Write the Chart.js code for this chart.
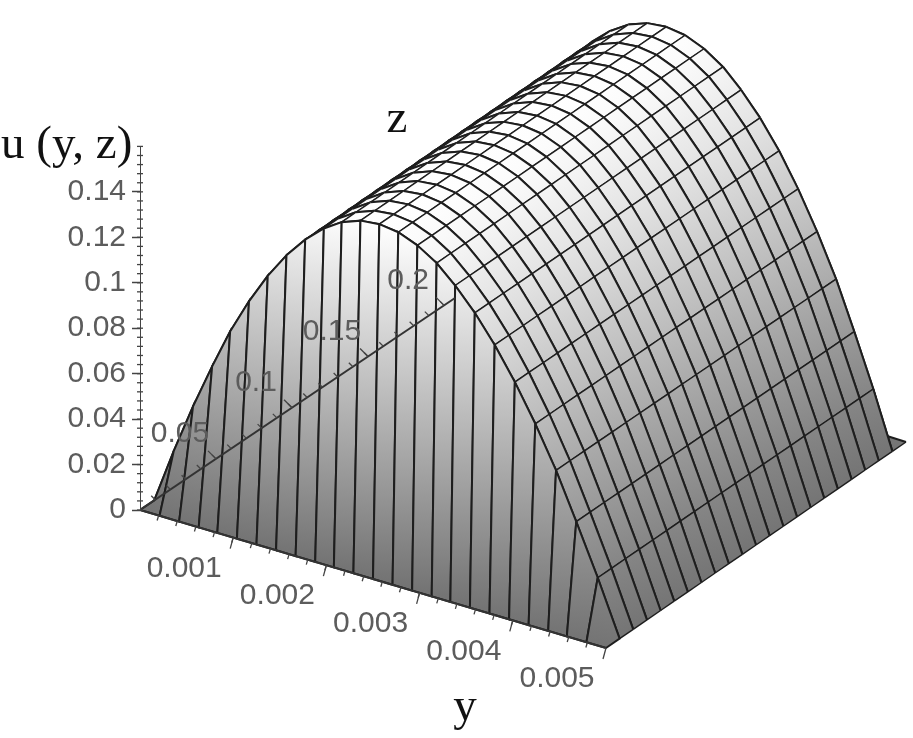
<!DOCTYPE html>
<html>
<head>
<meta charset="utf-8">
<style>
  html, body { margin: 0; padding: 0; background: #fff; }
  canvas { display: block; filter: blur(0.4px); }
</style>
<script src="https://cdn.jsdelivr.net/npm/chart.js@4"></script>
</head>
<body>
<canvas id="chart" width="913" height="738"></canvas>
<script>
// grid of the surface
var yGrid = [0, 0.00021, 0.00042, 0.00063, 0.00083, 0.00104, 0.00125, 0.00146, 0.00167, 0.00188, 0.00208, 0.00229, 0.0025,
  0.00271, 0.00292, 0.00313, 0.00333, 0.00354, 0.00375, 0.00396, 0.00417, 0.00438, 0.00458, 0.00479, 0.005];
var zGrid = [0, 0.0094, 0.0188, 0.0283, 0.0377, 0.0471, 0.0565, 0.0659, 0.0754, 0.0848, 0.0942, 0.1036,
  0.113, 0.1225, 0.1319, 0.1413, 0.1507, 0.1601, 0.1696, 0.179, 0.1884, 0.1978, 0.2072];
// u across the channel (one value per yGrid entry)
var uProfile = [0, 0.0241, 0.0461, 0.0661, 0.0839, 0.0996, 0.1133, 0.1248, 0.1342, 0.1416, 0.1468, 0.15, 0.151,
  0.15, 0.1468, 0.1416, 0.1342, 0.1248, 0.1133, 0.0996, 0.0839, 0.0661, 0.0461, 0.0241, 0];
// share of that profile reached at each zGrid entry
var zDevelop = [0, 1, 1, 1, 1, 1, 1, 1, 1, 1, 1, 1, 1, 1, 1, 1, 1, 1, 1, 1, 1, 1, 0];

var uTicks = [0, 0.02, 0.04, 0.06, 0.08, 0.1, 0.12, 0.14];
var uAxisTop = 0.16;
var yTicks = [0.001, 0.002, 0.003, 0.004, 0.005];
var yTickLabels = ["0.001", "0.002", "0.003", "0.004", "0.005"];
var zTicks = [0.05, 0.1, 0.15, 0.2];
var zTickLabels = ["0.05", "0.1", "0.15", "0.2"];

var yMax = 0.005, zMax = 0.2072, uBox = 0.151;

// view box corners on the page, [y=0,z=0], [y=max,z=0], [y=max,z=max], [y=0,z=max]
var floorBox = [[140, 510], [606, 648], [906, 442], [455, 298]];
var roofBox = [[140, 165], [590, 303], [906, 89], [455, -55]];

function bilerp(c, a, b) {
  return [
    c[0][0] * (1 - a) * (1 - b) + c[1][0] * a * (1 - b) + c[2][0] * a * b + c[3][0] * (1 - a) * b,
    c[0][1] * (1 - a) * (1 - b) + c[1][1] * a * (1 - b) + c[2][1] * a * b + c[3][1] * (1 - a) * b
  ];
}

function project(y, z, u) {
  var f = bilerp(floorBox, y / yMax, z / zMax);
  var r = bilerp(roofBox, y / yMax, z / zMax);
  var t = u / uBox;
  return { x: f[0] + (r[0] - f[0]) * t, y: f[1] + (r[1] - f[1]) * t };
}

function grey(u) {
  var g = Math.round(116 + (255 - 116) * Math.pow(Math.min(1, u / uBox), 1.15));
  return "rgb(" + g + "," + g + "," + g + ")";
}

// one dataset per cell, far cells first
var cells = [];
for (var j = zGrid.length - 2; j >= 0; j--) {
  for (var i = 0; i < yGrid.length - 1; i++) {
    var us = [
      uProfile[i] * zDevelop[j],
      uProfile[i + 1] * zDevelop[j],
      uProfile[i + 1] * zDevelop[j + 1],
      uProfile[i] * zDevelop[j + 1]
    ];
    var p = [
      project(yGrid[i], zGrid[j], us[0]),
      project(yGrid[i + 1], zGrid[j], us[1]),
      project(yGrid[i + 1], zGrid[j + 1], us[2]),
      project(yGrid[i], zGrid[j + 1], us[3])
    ];
    cells.push({
      data: [p[0], p[1], p[2], p[3], p[0]],
      cellU: us,
      wallCell: j === 0,
      xAxisID: "x",
      yAxisID: "sy",
      showLine: true,
      pointRadius: 0,
      borderColor: "#1e1e1e",
      borderWidth: 2,
      tension: 0,
      // edges 0 and 2 are the arcs across y, edges 1 and 3 run along z and are thinner on the barrel
      segment: {
        borderWidth: function(c) {
          if (c.p0DataIndex % 2 === 0) return 2;
          return c.datasetIndex !== undefined && c.chart.data.datasets[c.datasetIndex].wallCell ? 2 : 1.4;
        }
      }
    });
  }
}

var uLine = {
  data: [{ x: 140, y: 0 }, { x: 140, y: uAxisTop }],
  xAxisID: "x",
  yAxisID: "u",
  showLine: true,
  pointRadius: 0,
  borderColor: "#444",
  borderWidth: 2
};
var yLine = {
  data: [project(0, 0, 0), project(yMax, 0, 0)],
  xAxisID: "x",
  yAxisID: "sy",
  showLine: true,
  pointRadius: 0,
  borderColor: "#333",
  borderWidth: 2
};
var zLine = {
  data: [project(0, 0, 0), project(0, zMax, 0)],
  xAxisID: "x",
  yAxisID: "sy",
  showLine: true,
  pointRadius: 0,
  borderColor: "#333",
  borderWidth: 2
};

// chart.js draws dataset 0 last
var datasets = [uLine, yLine, zLine].concat(cells.slice().reverse());

var cellFill = {
  id: "cellFill",
  beforeDatasetDraw: function(chart, args) {
    var ds = chart.data.datasets[args.index];
    if (!ds.cellU) return;
    var pts = chart.getDatasetMeta(args.index).data;
    var lo = 0, hi = 0;
    for (var k = 1; k < 4; k++) {
      if (ds.cellU[k] < ds.cellU[lo]) lo = k;
      if (ds.cellU[k] > ds.cellU[hi]) hi = k;
    }
    var ctx = chart.ctx;
    var g = ctx.createLinearGradient(pts[lo].x, pts[lo].y, pts[hi].x, pts[hi].y);
    g.addColorStop(0, grey(ds.cellU[lo]));
    g.addColorStop(1, grey(ds.cellU[hi]));
    ctx.save();
    ctx.fillStyle = g;
    ctx.beginPath();
    ctx.moveTo(pts[0].x, pts[0].y);
    for (var m = 1; m < 4; m++) ctx.lineTo(pts[m].x, pts[m].y);
    ctx.closePath();
    ctx.fill();
    ctx.restore();
  }
};

var axisMarks = {
  id: "axisMarks",
  afterDatasetsDraw: function(chart) {
    var ctx = chart.ctx;
    var sx = chart.scales.x, sy = chart.scales.sy, su = chart.scales.u;
    function mark(p, dx, dy) {
      var px = sx.getPixelForValue(p.x), py = sy.getPixelForValue(p.y);
      ctx.beginPath();
      ctx.moveTo(px, py);
      ctx.lineTo(px + dx, py + dy);
      ctx.stroke();
    }
    ctx.save();
    ctx.strokeStyle = "#444";
    ctx.lineWidth = 1.3;

    // minor ticks
    for (var a = 1; a < 25; a++) mark(project(a * 0.0002, 0, 0), -1.5, 5);
    for (var b = 1; b < 21; b++) mark(project(0, b * 0.01, 0), -4, -4);
    for (var c = 0; c <= 40; c++) {
      var py = su.getPixelForValue(c * 0.004);
      ctx.beginPath();
      ctx.moveTo(137, py);
      ctx.lineTo(143, py);
      ctx.stroke();
    }

    // y and z labels with their long ticks
    ctx.font = '30px "Liberation Sans"';
    ctx.fillStyle = "#5c5c5c";
    ctx.textAlign = "center";
    ctx.textBaseline = "middle";
    yTicks.forEach(function(v, i) {
      var p = project(v, 0, 0);
      mark(p, -3, 11);
      ctx.fillText(yTickLabels[i], sx.getPixelForValue(p.x) - 49, sy.getPixelForValue(p.y) + 31);
    });
    zTicks.forEach(function(v, i) {
      var p = project(0, v, 0);
      mark(p, -8, -8);
      ctx.fillText(zTickLabels[i], sx.getPixelForValue(p.x) - 36, sy.getPixelForValue(p.y) - 25);
    });

    // axis names
    ctx.font = '47px "Liberation Serif"';
    ctx.fillStyle = "#111";
    ctx.textBaseline = "alphabetic";
    ctx.textAlign = "left";
    ctx.fillText("u (y, z)", 1, 158);
    ctx.textAlign = "center";
    ctx.fillText("z", 397, 132);
    ctx.fillText("y", 465, 720);
    ctx.restore();
  }
};

var uPerPixel = 0.02 / 45.45;

new Chart(document.getElementById("chart"), {
  type: "scatter",
  data: { datasets: datasets },
  plugins: [cellFill, axisMarks],
  options: {
    responsive: false,
    animation: false,
    events: [],
    layout: { padding: 0 },
    plugins: { legend: { display: false }, tooltip: { enabled: false }, title: { display: false } },
    scales: {
      x: { type: "linear", min: 140, max: 913, display: false },
      sy: { type: "linear", axis: "y", min: 0, max: 738, reverse: true, display: false },
      u: {
        type: "linear",
        axis: "y",
        position: "left",
        min: -(738 - 510) * uPerPixel,
        max: 510 * uPerPixel,
        afterBuildTicks: function(scale) {
          scale.ticks = uTicks.map(function(v) { return { value: v }; });
        },
        // keep the plot area on the whole canvas, the label overhang would shrink it
        afterFit: function(scale) {
          scale.width = 140;
          scale.paddingTop = 0;
          scale.paddingBottom = 0;
        },
        border: { display: false },
        grid: { drawOnChartArea: false, drawTicks: true, tickLength: 8, tickColor: "#444", tickWidth: 1.5 },
        ticks: {
          autoSkip: false,
          maxRotation: 0,
          padding: 6,
          color: "#5c5c5c",
          font: { family: "Liberation Sans", size: 30 },
          callback: function(v) { return String(v); }
        }
      }
    }
  }
});
</script>
</body>
</html>
